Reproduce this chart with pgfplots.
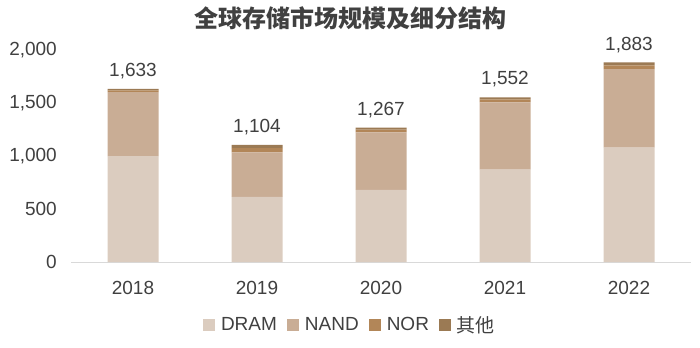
\documentclass[border=0pt]{standalone}
\usepackage{fontspec}
\setmainfont{Liberation Sans}
\newfontfamily\cjk{Noto Sans CJK SC}
\usepackage{pgfplots}
\pgfplotsset{compat=1.18}
\pgfkeys{/pgf/number format/.cd,1000 sep={,},assume math mode=true}
\pgfplotsset{sqleg/.style={legend image code/.code={\fill[##1] (0bp,-6bp) rectangle (12bp,6bp);}}}
\definecolor{cDRAM}{RGB}{219,204,191}
\definecolor{cNAND}{RGB}{201,173,149}
\definecolor{cNOR}{RGB}{178,134,88}
\definecolor{cOTH}{RGB}{155,122,84}
\definecolor{txt}{RGB}{64,64,64}
\definecolor{axisgray}{RGB}{217,217,217}
\newcommand{\f}{\fontsize{19bp}{22bp}\selectfont}
\begin{document}
\begin{tikzpicture}
\path[use as bounding box] (-71bp,-86bp) rectangle (629bp,262bp);
\begin{axis}[
  at={(0,0)}, anchor=south west,
  scale only axis, width=620bp, height=212bp,
  xmin=-0.5, xmax=4.5, ymin=0, ymax=2000,
  ybar stacked, bar width=51bp,
  every axis plot post/.append style={sqleg},
  axis x line*=bottom, axis y line*=left,
  x axis line style={draw=axisgray, line width=0.8pt},
  y axis line style={draw=none},
  major tick length=0pt,
  xtick={0,1,2,3,4},
  xticklabels={2018,2019,2020,2021,2022},
  ytick={0,500,1000,1500,2000},
  xticklabel style={anchor=north, inner sep=0pt, yshift=-19bp, font=\f, text=txt},
  yticklabel style={anchor=east, inner sep=0pt, xshift=-14bp, font=\f, text=txt},
  legend style={at={(0.45,-0.297)}, anchor=center, draw=none, fill=none,
    legend columns=-1, font=\f, text=txt,
    /tikz/every odd column/.append style={column sep=4bp},
    /tikz/every even column/.append style={column sep=8bp}},
]
\addplot[fill=cDRAM, draw=none]
  coordinates {(0,1000) (1,615) (2,680) (3,872) (4,1078)};
\addplot[fill=cNAND, draw=none]
  coordinates {(0,602) (1,420) (2,543) (3,635) (4,742)};
\addplot[fill=cNOR, draw=none]
  coordinates {(0,17) (1,40) (2,26) (3,27) (4,35)};
\addplot[fill=cOTH, draw=none,
  point meta=explicit,
  nodes near coords={\pgfmathprintnumber{\pgfplotspointmeta}},
  nodes near coords style={anchor=south, inner sep=0pt, yshift=11bp, font=\f, text=txt}]
  coordinates {(0,14) [1633] (1,29) [1104] (2,18) [1267] (3,18) [1552] (4,28) [1883]};
\legend{DRAM, NAND, NOR, {\cjk 其他}}
\end{axis}
\node[font=\cjk\bfseries\fontsize{24bp}{28bp}\selectfont, text=txt] at (279bp,244bp) {全球存储市场规模及细分结构};
\end{tikzpicture}
\end{document}
